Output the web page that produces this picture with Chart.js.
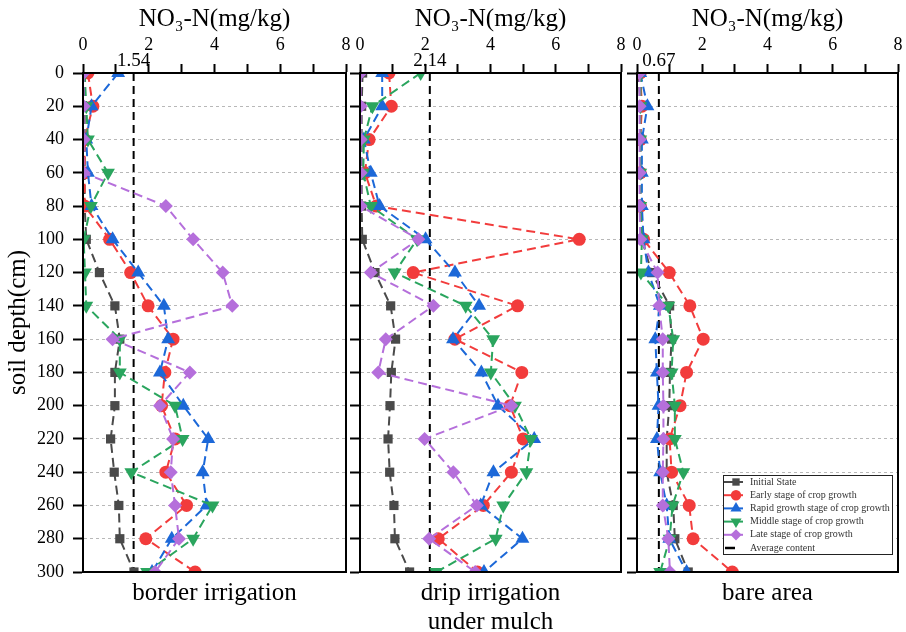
<!DOCTYPE html>
<html>
<head>
<meta charset="utf-8">
<title>NO3-N profiles</title>
<script src="https://cdn.jsdelivr.net/npm/chart.js@4.4.0/dist/chart.umd.min.js"></script>
<style>
  html, body { margin: 0; padding: 0; background: #fff; }
  #wrap { position: relative; width: 906px; height: 632px; }
  #wrap canvas { position: absolute; left: 0; top: 0; }
</style>
</head>
<body>
<div id="wrap">
  <canvas id="borderChart" width="906" height="632"></canvas>
  <canvas id="dripChart" width="906" height="632"></canvas>
  <canvas id="bareChart" width="906" height="632"></canvas>
</div>
<script>
// soil depth (cm) of every sample
const depths = [0, 20, 40, 60, 80, 100, 120, 140, 160, 180, 200, 220, 240, 260, 280, 300];

const seriesNames = [
  'Initial State',
  'Early stage of crop growth',
  'Rapid growth stage of crop growth',
  'Middle stage of crop growth',
  'Late stage of crop growth'
];

// border irrigation
const borderInitial = [0.05, 0.05, 0.05, 0.05, 0.05, 0.1, 0.5, 0.97, 1.12, 0.97, 0.97, 0.84, 0.95, 1.09, 1.12, 1.55];
const borderEarly   = [0.15, 0.3, 0.05, 0.05, 0.05, 0.81, 1.45, 1.98, 2.74, 2.49, 2.39, 2.8, 2.52, 3.15, 1.91, 3.41];
const borderRapid   = [1.07, 0.26, 0.1, 0.15, 0.26, 0.9, 1.68, 2.46, 2.59, 2.34, 3.05, 3.81, 3.64, 3.76, 2.7, 2.1];
const borderMiddle  = [0.05, 0.1, 0.15, 0.76, 0.24, 0.02, 0.06, 0.1, 1.12, 1.12, 2.8, 3.03, 1.47, 3.94, 3.35, 1.95];
const borderLate    = [0.02, 0.02, 0.02, 0.02, 2.52, 3.35, 4.25, 4.54, 0.9, 3.25, 2.34, 2.74, 2.67, 2.8, 2.92, 2.19];

// drip irrigation under mulch
const dripInitial = [0.08, 0.05, 0.05, 0.05, 0.05, 0.07, 0.46, 0.94, 1.09, 0.96, 0.92, 0.86, 0.91, 1.04, 1.07, 1.52];
const dripEarly   = [0.89, 0.96, 0.28, 0.15, 0.5, 6.72, 1.63, 4.83, 2.91, 4.96, 4.6, 5.0, 4.64, 3.78, 2.4, 3.6];
const dripRapid   = [0.68, 0.68, 0.12, 0.33, 0.6, 2.01, 2.91, 3.65, 2.85, 3.72, 4.23, 5.34, 4.09, 3.7, 4.98, 3.8];
const dripMiddle  = [1.86, 0.38, 0.12, 0.1, 0.33, 1.75, 1.06, 3.24, 4.08, 4.01, 4.75, 5.24, 5.1, 4.39, 4.16, 2.34];
const dripLate    = [0.02, 0.02, 0.02, 0.02, 0.02, 1.79, 0.33, 2.25, 0.79, 0.56, 4.64, 1.98, 2.86, 3.58, 2.12, 3.53];

// bare area
const bareInitial = [0.05, 0.1, 0.1, 0.1, 0.1, 0.15, 0.45, 1.0, 1.06, 1.01, 0.99, 0.91, 0.91, 1.11, 1.16, 1.57];
const bareEarly   = [0.1, 0.15, 0.1, 0.1, 0.1, 0.2, 0.99, 1.62, 2.03, 1.52, 1.32, 1.0, 1.06, 1.6, 1.72, 2.92];
const bareRapid   = [0.1, 0.32, 0.15, 0.15, 0.15, 0.2, 0.35, 0.7, 0.56, 0.61, 0.66, 0.61, 0.71, 0.91, 0.99, 1.52];
const bareMiddle  = [0.12, 0.1, 0.1, 0.1, 0.1, 0.15, 0.12, 0.96, 1.11, 1.06, 1.16, 1.16, 1.42, 1.09, 1.0, 0.71];
const bareLate    = [0.08, 0.08, 0.08, 0.08, 0.08, 0.1, 0.63, 0.68, 0.79, 0.79, 0.81, 0.81, 0.79, 0.79, 0.96, 1.01];

// average content of each treatment
const averages = [1.54, 2.14, 0.67];

const SERIF = "'Times New Roman', 'Liberation Serif', serif";
const seriesColors = ['#4a4a4a', '#f23c3c', '#1c68d8', '#2aa55e', '#b56fdb'];
const pointStyles = ['rect', 'circle', 'triangle', 'triangle', 'rectRot'];
const pointRotations = [0, 0, 0, 180, 0];
const pointRadii = [6.5, 6.5, 8, 8, 7];

function drawMarker(ctx, style, x, y, r, rot) {
  ctx.beginPath();
  if (style === 'circle') {
    ctx.arc(x, y, r, 0, Math.PI * 2);
  } else if (style === 'rect') {
    const s = r * Math.SQRT1_2;
    ctx.rect(x - s, y - s, 2 * s, 2 * s);
  } else if (style === 'rectRot') {
    ctx.moveTo(x, y - r); ctx.lineTo(x + r, y); ctx.lineTo(x, y + r); ctx.lineTo(x - r, y);
    ctx.closePath();
  } else {
    const d = rot === 180 ? -1 : 1;
    ctx.moveTo(x, y - d * r);
    ctx.lineTo(x + r * 0.866, y + d * r * 0.5);
    ctx.lineTo(x - r * 0.866, y + d * r * 0.5);
    ctx.closePath();
  }
  ctx.fill();
}

// frame, average value label, caption under the panel and (optionally) the legend
const decor = {
  id: 'decor',
  afterDatasetsDraw(chart, args, opts) {
    const { ctx, chartArea: a } = chart;
    ctx.save();
    ctx.strokeStyle = '#000';
    ctx.lineWidth = 2;
    ctx.strokeRect(a.left, a.top, a.right - a.left, a.bottom - a.top);
    ctx.restore();
  },
  afterDraw(chart, args, opts) {
    const { ctx, chartArea: a } = chart;
    const xs = chart.scales.x;
    ctx.save();
    ctx.fillStyle = '#000';
    ctx.textAlign = 'center';
    ctx.textBaseline = 'alphabetic';
    ctx.font = '19px ' + SERIF;
    ctx.fillText(opts.avg.toFixed(2), xs.getPixelForValue(opts.avg), 66);

    ctx.font = '25px ' + SERIF;
    const cx = (a.left + a.right) / 2;
    opts.caption.forEach((line, i) => ctx.fillText(line, cx, 600 + i * 29));

    if (opts.legend) {
      const bx = a.right - 175, by = a.bottom - 97, bw = 169, bh = 79;
      ctx.fillStyle = '#fff';
      ctx.fillRect(bx, by, bw, bh);
      ctx.strokeStyle = '#222';
      ctx.lineWidth = 1;
      ctx.strokeRect(bx + 0.5, by + 0.5, bw, bh);
      ctx.font = '10px ' + SERIF;
      ctx.textAlign = 'left';
      ctx.textBaseline = 'middle';
      const rowY = k => by + 7 + k * 13.2;
      seriesNames.forEach((name, k) => {
        const y = rowY(k);
        ctx.strokeStyle = seriesColors[k];
        ctx.fillStyle = seriesColors[k];
        ctx.lineWidth = 2;
        ctx.beginPath(); ctx.moveTo(bx + 1, y); ctx.lineTo(bx + 20, y); ctx.stroke();
        drawMarker(ctx, pointStyles[k], bx + 13, y, pointRadii[k] * 0.8, pointRotations[k]);
        ctx.fillStyle = '#333';
        ctx.fillText(name, bx + 27, y);
      });
      const y = rowY(5);
      ctx.strokeStyle = '#000';
      ctx.lineWidth = 2.5;
      ctx.beginPath(); ctx.moveTo(bx + 2, y); ctx.lineTo(bx + 12, y); ctx.stroke();
      ctx.fillStyle = '#333';
      ctx.fillText('Average content', bx + 27, y);
    }
    ctx.restore();
  }
};

function buildDatasets(values, avg) {
  const ds = values.map((vals, k) => ({
    label: seriesNames[k],
    data: depths.map((d, i) => ({ x: vals[i], y: d })),
    showLine: true,
    borderColor: seriesColors[k],
    backgroundColor: seriesColors[k],
    pointBackgroundColor: seriesColors[k],
    pointBorderColor: seriesColors[k],
    pointBorderWidth: 0,
    pointStyle: pointStyles[k],
    pointRotation: pointRotations[k],
    pointRadius: pointRadii[k],
    borderWidth: 2,
    borderDash: [9, 5],
    order: 5 - k
  }));
  ds.push({
    label: 'Average content',
    data: [{ x: avg, y: 0 }, { x: avg, y: 300 }],
    showLine: true,
    borderColor: '#000',
    borderWidth: 2,
    borderDash: [8, 5],
    pointRadius: 0,
    order: 10
  });
  return ds;
}

function makePanel(id, values, avg, cfg) {
  return new Chart(document.getElementById(id), {
    type: 'scatter',
    data: { datasets: buildDatasets(values, avg) },
    options: {
      responsive: false,
      animation: false,
      events: [],
      layout: { padding: { left: cfg.padLeft, right: cfg.padRight, top: 0, bottom: 60 } },
      plugins: {
        legend: { display: false },
        tooltip: { enabled: false },
        decor: { avg: avg, caption: cfg.caption, legend: cfg.legend }
      },
      scales: {
        x: {
          type: 'linear',
          position: 'top',
          min: 0,
          max: 8,
          afterFit: s => { s.height = 73; s.paddingLeft = 0; s.paddingRight = 0; },
          ticks: {
            stepSize: 1,
            autoSkip: false,
            maxRotation: 0,
            padding: 8,
            color: '#000',
            font: { family: SERIF, size: 18 },
            callback: v => (v % 2 === 0 ? String(v) : '')
          },
          grid: { drawOnChartArea: false, drawTicks: true, tickLength: 9, tickColor: '#000', tickWidth: 2 },
          border: { display: true, color: '#000', width: 2 },
          title: {
            display: true,
            text: 'NO₃-N(mg/kg)',
            color: '#000',
            font: { family: SERIF, size: 25 },
            padding: { top: 4, bottom: 0 }
          }
        },
        y: {
          type: 'linear',
          reverse: true,
          min: 0,
          max: 300,
          afterFit: s => { s.width = cfg.yWidth; s.paddingTop = 0; s.paddingBottom = 0; },
          ticks: {
            display: cfg.yLabels,
            stepSize: 20,
            padding: 9,
            color: '#000',
            font: { family: SERIF, size: 18 }
          },
          grid: { color: '#b8b8b8', lineWidth: 1, tickLength: 10, tickColor: '#000', tickWidth: 2, tickBorderDash: [] },
          border: { display: true, color: '#000', width: 2, dash: [3, 3] },
          title: {
            display: cfg.yLabels,
            text: 'soil depth(cm)',
            color: '#000',
            font: { family: SERIF, size: 25 },
            padding: { top: 3, bottom: 0 }
          }
        }
      }
    },
    plugins: [decor]
  });
}

makePanel('borderChart',
  [borderInitial, borderEarly, borderRapid, borderMiddle, borderLate], averages[0],
  { padLeft: 0, padRight: 560, yWidth: 83, yLabels: true, caption: ['border irrigation'], legend: false });

makePanel('dripChart',
  [dripInitial, dripEarly, dripRapid, dripMiddle, dripLate], averages[1],
  { padLeft: 349, padRight: 285, yWidth: 11, yLabels: false, caption: ['drip irrigation', 'under mulch'], legend: false });

makePanel('bareChart',
  [bareInitial, bareEarly, bareRapid, bareMiddle, bareLate], averages[2],
  { padLeft: 627, padRight: 6, yWidth: 10, yLabels: false, caption: ['bare area'], legend: true });
</script>
</body>
</html>
